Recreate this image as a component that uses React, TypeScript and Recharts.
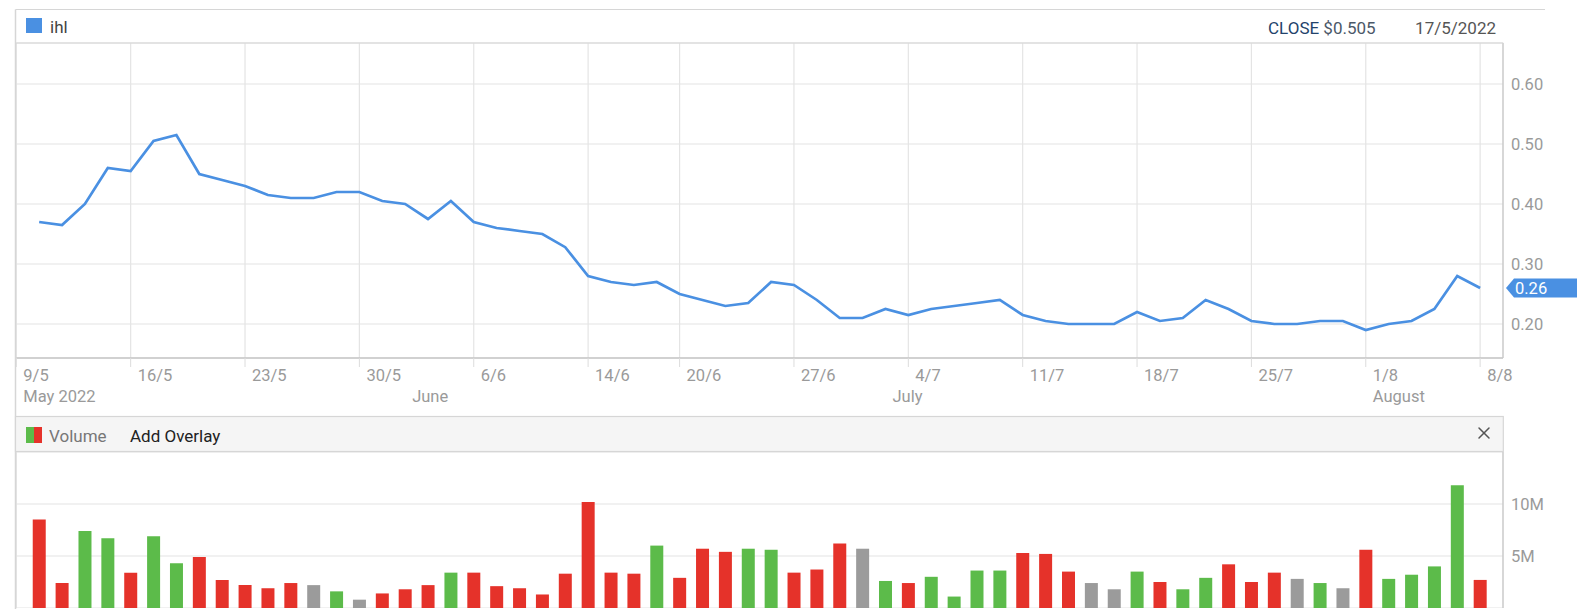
import React from 'react';
import { LineChart, Line, BarChart, Bar, Cell, XAxis, YAxis, CartesianGrid, ReferenceLine } from 'recharts';

const FONT = 'Roboto, sans-serif';

// trading-day prices (10/5/2022 .. 8/8/2022)
const prices = [
  0.37, 0.365, 0.40, 0.46, 0.455, 0.505, 0.515, 0.45, 0.44, 0.43,
  0.415, 0.41, 0.41, 0.42, 0.42, 0.405, 0.40, 0.375, 0.405, 0.37,
  0.36, 0.355, 0.35, 0.328, 0.28, 0.27, 0.265, 0.27, 0.25, 0.24,
  0.23, 0.235, 0.27, 0.265, 0.24, 0.21, 0.21, 0.225, 0.215, 0.225,
  0.23, 0.235, 0.24, 0.215, 0.205, 0.20, 0.20, 0.20, 0.22, 0.205,
  0.21, 0.24, 0.225, 0.205, 0.20, 0.20, 0.205, 0.205, 0.19, 0.20,
  0.205, 0.225, 0.28, 0.26,
];

// volume in millions
const volumesM = [
  8.5, 2.4, 7.4, 6.7, 3.4, 6.9, 4.3, 4.9, 2.7, 2.2,
  1.9, 2.4, 2.2, 1.6, 0.8, 1.4, 1.8, 2.2, 3.4, 3.4,
  2.1, 1.9, 1.3, 3.3, 10.2, 3.4, 3.3, 6.0, 2.9, 5.7,
  5.4, 5.7, 5.6, 3.4, 3.7, 6.2, 5.7, 2.6, 2.4, 3.0,
  1.1, 3.6, 3.6, 5.3, 5.2, 3.5, 2.4, 1.8, 3.5, 2.5,
  1.8, 2.9, 4.2, 2.5, 3.4, 2.8, 2.4, 1.9, 5.6, 2.8,
  3.2, 4.0, 11.8, 2.7,
];

// u = up (green), d = down (red), f = flat (gray)
const directions = [
  'd', 'd', 'u', 'u', 'd', 'u', 'u', 'd', 'd', 'd',
  'd', 'd', 'f', 'u', 'f', 'd', 'd', 'd', 'u', 'd',
  'd', 'd', 'd', 'd', 'd', 'd', 'd', 'u', 'd', 'd',
  'd', 'u', 'u', 'd', 'd', 'd', 'f', 'u', 'd', 'u',
  'u', 'u', 'u', 'd', 'd', 'd', 'f', 'f', 'u', 'd',
  'u', 'u', 'd', 'd', 'd', 'f', 'u', 'f', 'd', 'u',
  'u', 'u', 'u', 'd',
];

const dirColors: Record<string, string> = { u: '#5cbb4a', d: '#e5322a', f: '#9b9b9b' };

const dateTickIdx = [0, 5, 10, 15, 20, 25, 29, 34, 39, 44, 49, 54, 59, 64];
const dateTickLabels = ['9/5', '16/5', '23/5', '30/5', '6/6', '14/6', '20/6', '27/6', '4/7', '11/7', '18/7', '25/7', '1/8', '8/8'];
const monthTickIdx = [0, 17, 38, 59];
const monthTickLabels = ['May 2022', 'June', 'July', 'August'];
const priceTicks = [0.2, 0.3, 0.4, 0.5, 0.6];
const volumeTicks = [5e6, 10e6];

const seriesName = 'ihl';
const headerClose = 0.505;
const headerDate = '17/5/2022';

const rows = prices.map((p, k) => ({
  day: k + 1,
  price: p,
  volume: volumesM[k] * 1e6,
  dir: directions[k],
}));

const lastPrice = prices[prices.length - 1];

const W = 1577;
const LEFT = 16.3;
const AXW = 74;
const TEXT = '#9a9a9a';
const BORDER = '#d6d6d6';
const GRID = '#e4e4e4';

function DateTick(props: any) {
  const { x, y, payload } = props;
  const k = dateTickIdx.indexOf(payload.value);
  return (
    <text x={x + 7} y={y + 12} fill={TEXT} fontSize={16.5} fontFamily={FONT}>
      {dateTickLabels[k]}
    </text>
  );
}

function MonthTick(props: any) {
  const { x, y, payload } = props;
  const k = monthTickIdx.indexOf(payload.value);
  return (
    <text x={x + 7} y={y + 22} fill={TEXT} fontSize={16.5} fontFamily={FONT}>
      {monthTickLabels[k]}
    </text>
  );
}

function PriceTick(props: any) {
  const { x, y, payload } = props;
  return (
    <text x={x} y={y + 6} fill={TEXT} fontSize={16.5} fontFamily={FONT} textAnchor="start">
      {payload.value.toFixed(2)}
    </text>
  );
}

function VolTick(props: any) {
  const { x, y, payload } = props;
  return (
    <text x={x} y={y + 6} fill={TEXT} fontSize={16.5} fontFamily={FONT} textAnchor="start">
      {`${payload.value / 1e6}M`}
    </text>
  );
}

function PriceBadge(props: any) {
  const { viewBox, price } = props;
  if (!viewBox) return null;
  const x0 = viewBox.x + viewBox.width;
  const yc = viewBox.y;
  const h = 9.5;
  const pts = `${x0 + 3},${yc} ${x0 + 11},${yc - h} ${x0 + AXW},${yc - h} ${x0 + AXW},${yc + h} ${x0 + 11},${yc + h}`;
  return (
    <g>
      <polygon points={pts} fill="#4a90e2" />
      <text x={x0 + 12} y={yc + 6} fill="#fff" fontSize={16.5} fontFamily={FONT}>
        {price.toFixed(2)}
      </text>
    </g>
  );
}

export default function App() {
  return (
    <div style={{ position: 'absolute', left: 0, top: 0, width: W, height: 609, background: '#fff', overflow: 'hidden' }}>
      <div style={{ position: 'absolute', left: 0, top: 0 }}>
        <LineChart width={W} height={412} data={rows} margin={{ top: 43, right: 0, left: LEFT, bottom: 0 }}>
          <CartesianGrid stroke={GRID} strokeWidth={1.2} />
          <XAxis
            dataKey="day"
            type="number"
            domain={[0, 65]}
            ticks={dateTickIdx}
            interval={0}
            height={22}
            tickSize={9}
            tickMargin={2}
            tickLine={{ stroke: '#dcdcdc' }}
            axisLine={{ stroke: '#c6c6c6', strokeWidth: 1.5 }}
            tick={<DateTick />}
            allowDataOverflow
          />
          <XAxis
            xAxisId="m"
            dataKey="day"
            type="number"
            domain={[0, 65]}
            ticks={monthTickIdx}
            interval={0}
            height={32}
            tickSize={0}
            tickMargin={0}
            tickLine={false}
            axisLine={false}
            tick={<MonthTick />}
            allowDataOverflow
          />
          <YAxis
            orientation="right"
            type="number"
            width={AXW}
            domain={[0.1433, 0.6683]}
            ticks={priceTicks}
            allowDataOverflow
            tickSize={0}
            tickMargin={8}
            tickLine={false}
            axisLine={{ stroke: '#c6c6c6', strokeWidth: 1.2 }}
            tick={<PriceTick />}
          />
          <ReferenceLine y={lastPrice} stroke="none" label={<PriceBadge price={lastPrice} />} />
          <Line
            type="linear"
            dataKey="price"
            stroke="#4a90e2"
            strokeWidth={2.7}
            dot={false}
            activeDot={false}
            isAnimationActive={false}
          />
        </LineChart>
      </div>
      <div style={{ position: 'absolute', left: 0, top: 452 }}>
        <BarChart width={W} height={156} data={rows} margin={{ top: 0, right: 0, left: LEFT, bottom: 0 }}>
          <CartesianGrid stroke={GRID} strokeWidth={1.2} />
          <XAxis
            dataKey="day"
            type="number"
            domain={[0, 65]}
            ticks={dateTickIdx}
            interval={0}
            height={0}
            tick={false}
            tickLine={false}
            axisLine={{ stroke: '#c6c6c6', strokeWidth: 1.2 }}
            allowDataOverflow
          />
          <YAxis
            orientation="right"
            type="number"
            width={AXW}
            domain={[0, 15e6]}
            ticks={volumeTicks}
            allowDataOverflow
            tickSize={0}
            tickMargin={8}
            tickLine={false}
            axisLine={{ stroke: '#c6c6c6', strokeWidth: 1.2 }}
            tick={<VolTick />}
          />
          <Bar dataKey="volume" barSize={13} isAnimationActive={false}>
            {rows.map((r) => (
              <Cell key={r.day} fill={dirColors[r.dir]} />
            ))}
          </Bar>
        </BarChart>
      </div>
      <svg width={W} height={609} style={{ position: 'absolute', left: 0, top: 0, pointerEvents: 'none' }}>
        <line x1={15.5} y1={9.5} x2={1545} y2={9.5} stroke={BORDER} strokeWidth={1.2} />
        <line x1={15.5} y1={9.5} x2={15.5} y2={609} stroke={BORDER} strokeWidth={1.5} />
        <line x1={15.5} y1={43} x2={1503.3} y2={43} stroke={BORDER} strokeWidth={1.2} />
        <rect x={26} y={18} width={16} height={15} fill="#4a90e2" />
        <text x={50} y={33} fill="#444" fontSize={17} fontFamily={FONT}>{seriesName}</text>
        <text x={1268} y={34} fontSize={17} fontFamily={FONT}>
          <tspan fill="#23436b">CLOSE</tspan>
          <tspan fill="#4b5868">{` $${headerClose.toFixed(3)}`}</tspan>
        </text>
        <text x={1496} y={34} fill="#555" fontSize={17} fontFamily={FONT} textAnchor="end">{headerDate}</text>

        <rect x={15.5} y={416.5} width={1487.8} height={35} fill="#f5f5f5" stroke={BORDER} strokeWidth={1.2} />
        <rect x={26} y={427} width={8} height={16} fill="#5cbb4a" />
        <rect x={34} y={427} width={8} height={16} fill="#e5322a" />
        <text x={49} y={442} fill="#777" fontSize={17} fontFamily={FONT}>Volume</text>
        <text x={130} y={442} fill="#222" fontSize={17} fontFamily={FONT}>Add Overlay</text>
        <g stroke="#555" strokeWidth={1.5} strokeLinecap="round">
          <line x1={1479} y1={428} x2={1489} y2={438} />
          <line x1={1489} y1={428} x2={1479} y2={438} />
        </g>
      </svg>
    </div>
  );
}
